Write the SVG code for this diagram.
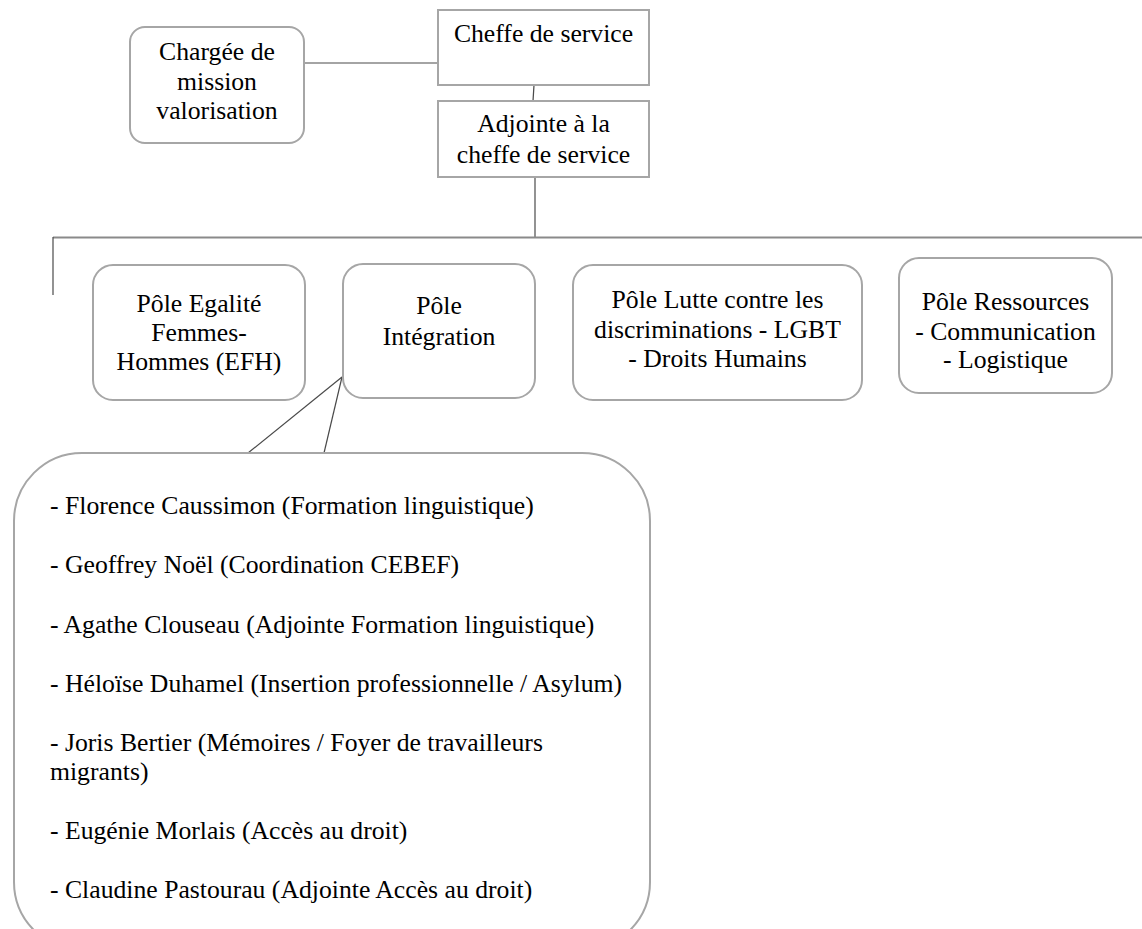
<svg xmlns="http://www.w3.org/2000/svg" width="1142" height="929" viewBox="0 0 1142 929">
<style>
.box{fill:#fff;stroke:#a6a6a6;stroke-width:2}
text{font-family:'Liberation Serif','Times New Roman',Times,serif;font-size:25.7px;fill:#000}
.c{text-anchor:middle}
.conn line{stroke:#4a4a4a;stroke-width:1.2}
</style>
<rect width="1142" height="929" fill="#fff"/>
<g id="connectors" class="conn">
<line x1="304" y1="63" x2="438" y2="63"/>
<line x1="534" y1="85" x2="533" y2="101"/>
<line x1="535" y1="177" x2="535" y2="237"/>
<line x1="53" y1="237.5" x2="1142" y2="237.5" style="stroke:#8a8a8a;stroke-width:2"/>
<line x1="53" y1="237" x2="53" y2="295"/>
<line x1="342" y1="377" x2="248" y2="453"/>
<line x1="342" y1="377" x2="324" y2="453"/>
</g>
<g id="chargee">
<rect class="box" x="130" y="27" width="174" height="116" rx="15"/>
<text class="c" x="217" y="60">Chargée de</text>
<text class="c" x="217" y="90">mission</text>
<text class="c" x="217" y="119">valorisation</text>
</g>
<g id="cheffe">
<rect class="box" x="438" y="10" width="211" height="75"/>
<text class="c" x="543.5" y="42">Cheffe de service</text>
</g>
<g id="adjointe">
<rect class="box" x="438" y="101" width="211" height="76"/>
<text class="c" x="543.5" y="132">Adjointe à la</text>
<text class="c" x="543.5" y="163">cheffe de service</text>
</g>
<g id="pole-efh">
<rect class="box" x="93" y="265" width="212" height="135" rx="20"/>
<text class="c" x="199" y="312">Pôle Egalité</text>
<text class="c" x="199" y="341">Femmes-</text>
<text class="c" x="199" y="370">Hommes (EFH)</text>
</g>
<g id="pole-integration">
<rect class="box" x="343" y="264" width="192" height="134" rx="20"/>
<text class="c" x="439" y="314">Pôle</text>
<text class="c" x="439" y="345">Intégration</text>
</g>
<g id="pole-lutte">
<rect class="box" x="573" y="265" width="289" height="135" rx="20"/>
<text class="c" x="717.5" y="308">Pôle Lutte contre les</text>
<text class="c" x="717.5" y="338">discriminations - LGBT</text>
<text class="c" x="717.5" y="367">- Droits Humains</text>
</g>
<g id="pole-ressources">
<rect class="box" x="899" y="258" width="213" height="135" rx="20"/>
<text class="c" x="1005.5" y="310">Pôle Ressources</text>
<text class="c" x="1005.5" y="340">- Communication</text>
<text class="c" x="1005.5" y="368">- Logistique</text>
</g>
<g id="integration-members">
<rect class="box" x="14" y="453" width="636" height="497" rx="68"/>
<text x="50" y="514">- Florence Caussimon (Formation linguistique)</text>
<text x="50" y="573">- Geoffrey Noël (Coordination CEBEF)</text>
<text x="50" y="633">- Agathe Clouseau (Adjointe Formation linguistique)</text>
<text x="50" y="692">- Héloïse Duhamel (Insertion professionnelle / Asylum)</text>
<text x="50" y="751">- Joris Bertier (Mémoires / Foyer de travailleurs</text>
<text x="50" y="780">migrants)</text>
<text x="50" y="839">- Eugénie Morlais (Accès au droit)</text>
<text x="50" y="898">- Claudine Pastourau (Adjointe Accès au droit)</text>
</g>
</svg>
